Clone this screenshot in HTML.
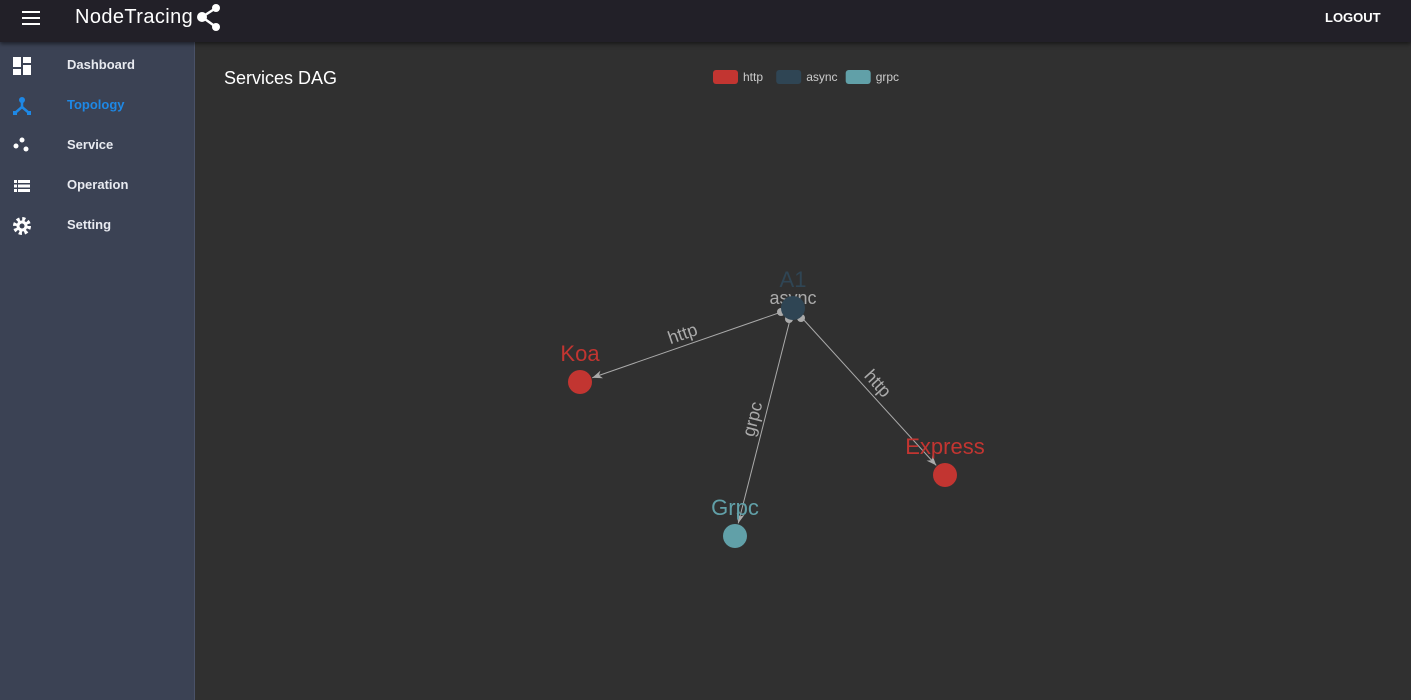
<!DOCTYPE html>
<html><head><meta charset="utf-8"><style>
body{margin:0;width:1411px;height:700px;overflow:hidden;background:#303030;font-family:"Liberation Sans",sans-serif}
#top{position:absolute;left:0;top:0;width:1411px;height:42px;background:#222028;box-shadow:0 2px 4px rgba(0,0,0,.5);z-index:2}
#side{position:absolute;left:0;top:42px;width:194px;height:658px;background:#3b4254;border-right:1px solid #4a5268}
.item{position:absolute;left:0;width:194px;height:40px;color:#e8eaf0;font-size:13px;font-weight:bold}
.item span{position:absolute;left:67px;top:13px}
.item svg{position:absolute;left:12px;top:12px}
</style></head><body>
<div id="top">
<svg style="position:absolute;left:22px;top:11px" width="18" height="14"><rect y="0" width="18" height="2" fill="#fff"/><rect y="6" width="18" height="2" fill="#fff"/><rect y="12" width="18" height="2" fill="#fff"/></svg>
<div style="position:absolute;left:75px;top:6px;color:#fff;font-size:20px;letter-spacing:.4px">NodeTracing</div>
<svg style="position:absolute;left:196px;top:3px" width="28" height="28"><line x1="6" y1="14" x2="20" y2="5" stroke="#fff" stroke-width="2.5"/><line x1="6" y1="14" x2="20" y2="24" stroke="#fff" stroke-width="2.5"/><circle cx="6" cy="14" r="5" fill="#fff"/><circle cx="20" cy="5" r="4" fill="#fff"/><circle cx="20" cy="24" r="4" fill="#fff"/></svg>
<div style="position:absolute;left:1325px;top:10px;color:#fff;font-size:13px;font-weight:bold">LOGOUT</div>
</div>
<div id="side">
<div class="item" style="top:2px"><svg width="20" height="20"><rect x="1" y="1" width="8" height="10" fill="#fff"/><rect x="11" y="1" width="8" height="6" fill="#fff"/><rect x="1" y="13" width="8" height="6" fill="#fff"/><rect x="11" y="9" width="8" height="10" fill="#fff"/></svg><span>Dashboard</span></div>
<div class="item" style="top:42px;color:#1e88e5"><svg width="20" height="20"><circle cx="10" cy="4" r="3" fill="#1e88e5"/><line x1="10" y1="4" x2="10" y2="11" stroke="#1e88e5" stroke-width="2.5"/><line x1="10" y1="11" x2="3" y2="17" stroke="#1e88e5" stroke-width="2.5"/><line x1="10" y1="11" x2="17" y2="17" stroke="#1e88e5" stroke-width="2.5"/><rect x="1" y="15" width="4" height="4" fill="#1e88e5"/><rect x="15" y="15" width="4" height="4" fill="#1e88e5"/></svg><span>Topology</span></div>
<div class="item" style="top:82px"><svg width="20" height="20"><circle cx="10" cy="4" r="2.5" fill="#fff"/><circle cx="4" cy="10" r="2.5" fill="#fff"/><circle cx="14" cy="13" r="2.5" fill="#fff"/></svg><span>Service</span></div>
<div class="item" style="top:122px"><svg width="20" height="20"><rect x="2" y="4" width="3" height="3" fill="#fff"/><rect x="6" y="4" width="12" height="3" fill="#fff"/><rect x="2" y="8.5" width="3" height="3" fill="#fff"/><rect x="6" y="8.5" width="12" height="3" fill="#fff"/><rect x="2" y="13" width="3" height="3" fill="#fff"/><rect x="6" y="13" width="12" height="3" fill="#fff"/></svg><span>Operation</span></div>
<div class="item" style="top:162px"><svg width="20" height="20"><circle cx="10" cy="10" r="7" fill="none" stroke="#fff" stroke-width="4" stroke-dasharray="3 2.5"/><circle cx="10" cy="10" r="5.5" fill="#fff"/><circle cx="10" cy="10" r="2.5" fill="#3b4254"/></svg><span>Setting</span></div>
</div>
<div style="position:absolute;left:224px;top:68px;color:#fff;font-size:18px">Services DAG</div>
<svg id="chart" style="position:absolute;left:0;top:0" width="1411" height="700"></svg>
<script>
const nodeNames=["A1","Koa","Express","Grpc"];
const nodeTypes=["async","http","http","grpc"];
const nodeX=[793,580,945,735];
const nodeY=[308,382,475,536];
const edgeFrom=[0,0,0];
const edgeTo=[1,3,2];
const edgeLabels=["http","grpc","http"];
const legendNames=["http","async","grpc"];
const colors={http:"#c23531",async:"#2f4554",grpc:"#61a0a8"};
const svg=document.getElementById('chart');const NS="http://www.w3.org/2000/svg";
function mk(t,a,p){const e=document.createElementNS(NS,t);for(const k in a)e.setAttribute(k,a[k]);(p||svg).appendChild(e);return e;}
// legend
let lx=713;
legendNames.forEach((n,i)=>{const g=mk('g',{});


mk('rect',{x:lx,y:70,width:25,height:14,rx:3,fill:colors[n]},g);
const t=mk('text',{x:lx+30,y:81,fill:'#ccc','font-size':12,'font-family':'Liberation Sans'},g);t.textContent=n;
lx+=30+n.length*6.3+8;});
// self loop
const sl=mk('g',{});


[[-12,4],[-4,11],[8,10]].forEach(d=>mk('circle',{cx:nodeX[0]+d[0],cy:nodeY[0]+d[1],r:4,fill:'#aaa'},sl));
const st=mk('text',{x:nodeX[0],y:nodeY[0]-4,fill:'#aaa','font-size':18,'text-anchor':'middle','font-family':'Liberation Sans'},sl);st.textContent="async";
// edges
edgeFrom.forEach((f,i)=>{const t=edgeTo[i];
const x1=nodeX[f],y1=nodeY[f],x2=nodeX[t],y2=nodeY[t];
const dx=x2-x1,dy=y2-y1,L=Math.hypot(dx,dy),ux=dx/L,uy=dy/L;
const sx=x1+ux*12,sy=y1+uy*12,ex=x2-ux*13,ey=y2-uy*13;
const g=mk('g',{});


mk('line',{x1:sx,y1:sy,x2:ex,y2:ey,stroke:'#aaa','stroke-width':1},g);
const px=-uy,py=ux;
mk('path',{d:`M${ex},${ey} L${ex-ux*10+px*4},${ey-uy*10+py*4} L${ex-ux*7},${ey-uy*7} L${ex-ux*10-px*4},${ey-uy*10-py*4}Z`,fill:'#aaa'},g);
let ang=Math.atan2(dy,dx)*180/Math.PI;if(ang>90)ang-=180;if(ang<-90)ang+=180;
const mx=(x1+x2)/2,my=(y1+y2)/2;
const tx=mk('text',{x:mx,y:my-6,fill:'#aaa','font-size':18,'text-anchor':'middle','font-family':'Liberation Sans',transform:`rotate(${ang} ${mx} ${my})`},g);tx.textContent=edgeLabels[i];});
// nodes
nodeNames.forEach((n,i)=>{const g=mk('g',{});


const c=colors[nodeTypes[i]];
mk('circle',{cx:nodeX[i],cy:nodeY[i],r:12,fill:c},g);
const t=mk('text',{x:nodeX[i],y:nodeY[i]-21,fill:c,'font-size':22,'text-anchor':'middle','font-family':'Liberation Sans'},g);t.textContent=n;});
</script>
</body></html>
